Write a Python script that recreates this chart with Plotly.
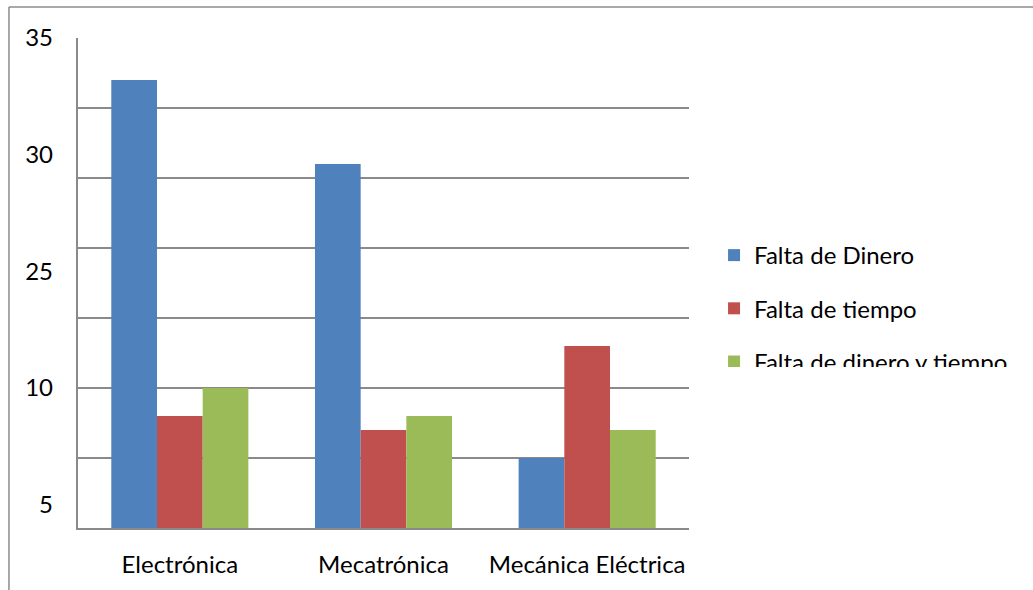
import plotly.graph_objects as go

# Categories and series
carreras = ["Electrónica", "Mecatrónica", "Mecánica Eléctrica"]
falta_dinero = [32, 26, 5]
falta_tiempo = [8, 7, 13]
falta_dinero_tiempo = [10, 8, 7]

series_names = ["Falta de Dinero", "Falta de tiempo", "Falta de dinero y tiempo"]
series_colors = ["#4F81BD", "#C0504D", "#9BBB59"]

# Axis label positions and texts for the value axis
y_label_vals = [35, 26.667, 18.333, 10, 1.667]
y_label_text = ["35", "30", "25", "10", "5"]

FONT = "Lato"
GRID = "#8a8a8a"

fig = go.Figure()
for i, (name, vals, col) in enumerate(zip(series_names,
                                          [falta_dinero, falta_tiempo, falta_dinero_tiempo],
                                          series_colors)):
    fig.add_trace(go.Bar(
        x=carreras, y=vals, name=name, legendgroup=f"g{i}",
        marker=dict(color=col, line=dict(width=0)),
    ))

# empty trace that carries the label axis
fig.add_trace(go.Scatter(x=[], y=[], yaxis="y2", showlegend=False, hoverinfo="skip"))

fig.update_layout(
    width=1033, height=590,
    margin=dict(l=78, r=344, t=38, b=62),
    paper_bgcolor="white", plot_bgcolor="white",
    barmode="group", bargap=0.327, bargroupgap=0,
    font=dict(family=FONT, size=24, color="black"),
    xaxis=dict(
        showline=True, linecolor=GRID, linewidth=1.6,
        showgrid=False, ticks="", ticklabelstandoff=14,
        automargin=False,
        tickfont=dict(family=FONT, size=24, color="black"),
    ),
    yaxis=dict(
        range=[0, 35], dtick=5, tick0=0,
        showgrid=True, gridcolor=GRID, gridwidth=1.6,
        showline=True, linecolor=GRID, linewidth=1.6,
        showticklabels=False, ticks="", zeroline=False,
        automargin=False,
    ),
    yaxis2=dict(
        range=[0, 35], overlaying="y", side="left", anchor="x",
        tickmode="array", tickvals=y_label_vals, ticktext=y_label_text,
        showgrid=False, showline=False, zeroline=False, ticks="",
        ticklabelstandoff=24, automargin=False,
        tickfont=dict(family=FONT, size=24, color="black"),
    ),
    legend=dict(
        x=1.041, xanchor="left", y=0.602, yanchor="top",
        traceorder="grouped", tracegroupgap=19,
        font=dict(family=FONT, size=24, color="black"),
        bgcolor="rgba(0,0,0,0)", borderwidth=0,
        maxheight=134,
    ),
    showlegend=True,
)

# chart frame: top edge and left edge
fig.add_shape(type="line", xref="paper", yref="paper",
              x0=-0.113, x1=1.6, y0=1.0633, y1=1.0633,
              line=dict(color="#8c8c8c", width=1.5))
fig.add_shape(type="line", xref="paper", yref="paper",
              x0=-0.113, x1=-0.113, y0=1.0633, y1=-0.2,
              line=dict(color="#8c8c8c", width=1.5))

# the legend is cut to its height; keep the scroll handle out of view
hide_scrollbar = (
    "var gd=document.getElementById('{plot_id}');"
    "gd.querySelectorAll('.legend .scrollbar').forEach(function(e){e.style.display='none';});"
)

fig.write_html("out.html", post_script=hide_scrollbar)
